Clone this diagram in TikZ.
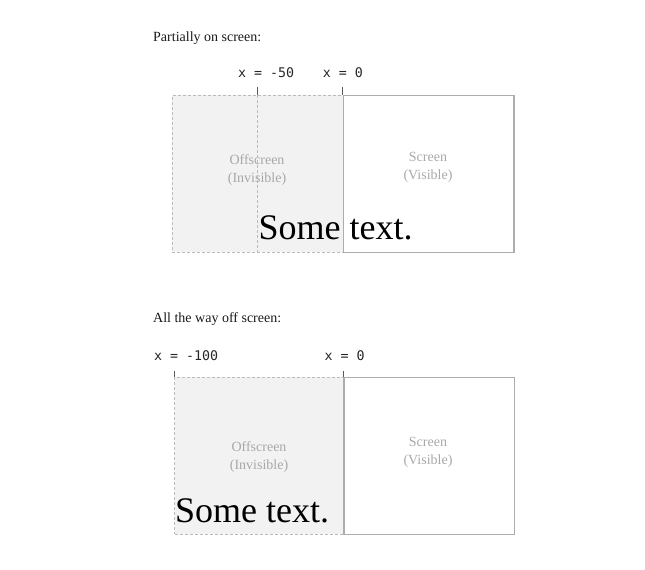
\documentclass[tikz,border=0pt]{standalone}
\usepackage{fontspec}
\setmainfont{Liberation Serif}
\newfontfamily\codefont{DejaVu Sans Mono}

\definecolor{offfill}{HTML}{F2F2F2}
\definecolor{edgegray}{HTML}{BBBBBB}
\definecolor{screengray}{HTML}{ADADAD}
\definecolor{labelgray}{HTML}{A8A8A8}

\tikzset{
  title/.style={anchor=base west, inner sep=0pt, text=black!90,
    font=\fontsize{14}{16}\selectfont},
  coordlabel/.style={anchor=base west, inner sep=0pt, text=black!85,
    font=\codefont\fontsize{13.3}{15}\selectfont},
  offscreen/.style={draw=edgegray, fill=offfill, line width=0.9pt,
    dash pattern=on 3pt off 2pt, anchor=north west, inner sep=0pt,
    minimum height=157pt},
  screen/.style={draw=screengray, line width=1.3pt, anchor=north west,
    inner sep=0pt, minimum width=170.7pt, minimum height=157pt},
  area/.style={align=center, inner sep=0pt, text=labelgray,
    font=\fontsize{14}{18}\selectfont},
  sample/.style={anchor=base west, inner sep=0pt,
    font=\fontsize{36}{40}\selectfont},
  tickmark/.style={draw=black!65, line width=1pt},
  guide/.style={draw=edgegray, line width=0.9pt, dash pattern=on 3pt off 2pt}
}

\begin{document}
\begin{tikzpicture}[x=1pt, y=-1pt]
    \useasboundingbox (0,0) rectangle (645,570);

    % Partially on screen
    \node[title] (titleA) at (153,41) {Partially on screen:};
    \node[offscreen, minimum width=170.7pt] (offA) at (172,95) {};
    \node[screen] (scrA) at (342.7,95) {};
    \node[area] (offtxtA) at (257,169.6) {Offscreen\\(Invisible)};
    \node[area] (scrtxtA) at (428,167) {Screen\\(Visible)};

    \coordinate (minusA) at (257.7,87);
    \coordinate (zeroA) at (342.7,87);
    \draw[guide] (minusA |- offA.north) -- (minusA |- offA.south);
    \draw[tickmark] (minusA) -- (minusA |- offA.north);
    \draw[tickmark] (zeroA) -- (scrA.north west);
    \node[coordlabel] (lblminusA) at (238,77.3) {x = -50};
    \node[coordlabel] (lblzeroA) at (322.7,77.3) {x = 0};

    \node[sample] (sampleA) at (258.5,239.3) {Some text.};

    % All the way off screen
    \node[title] (titleB) at (153,322.5) {All the way off screen:};
    \node[offscreen, minimum width=169pt] (offB) at (174.3,377) {};
    \node[screen] (scrB) at (343.3,377) {};
    \node[area] (offtxtB) at (259,456.6) {Offscreen\\(Invisible)};
    \node[area] (scrtxtB) at (428,452.6) {Screen\\(Visible)};

    \coordinate (minusB) at (174.3,371);
    \coordinate (zeroB) at (343.3,371);
    \draw[tickmark] (minusB) -- (offB.north west);
    \draw[tickmark] (zeroB) -- (scrB.north west);
    \node[coordlabel] (lblminusB) at (154,360.7) {x = -100};
    \node[coordlabel] (lblzeroB) at (324.3,360.7) {x = 0};

    \node[sample] (sampleB) at (175,522.7) {Some text.};
\end{tikzpicture}
\end{document}
